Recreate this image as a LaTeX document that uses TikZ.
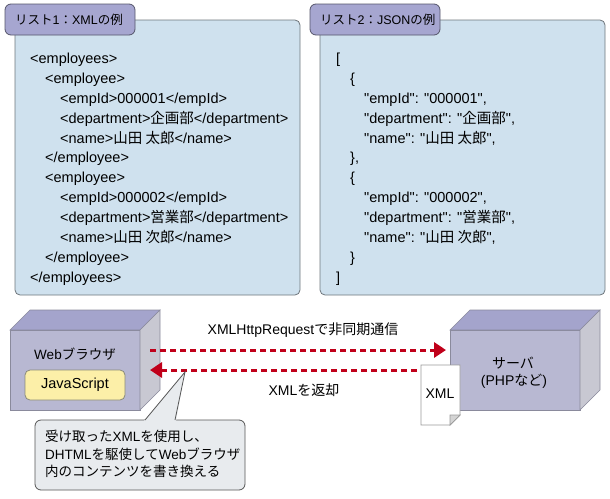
\documentclass[tikz,border=0pt]{standalone}
\usepackage{fontspec}
\setmainfont{Liberation Sans}[Ligatures=TeXOff]
\newfontfamily\jafont{Noto Sans CJK JP}
\newcommand\JA[1]{{\jafont #1}}
\usetikzlibrary{arrows.meta}
\definecolor{panelfill}{HTML}{CFE1EE}
\definecolor{panelline}{HTML}{6E767C}
\definecolor{tabfill}{HTML}{A6A6D0}
\definecolor{tabline}{HTML}{55556A}
\definecolor{frontfill}{HTML}{B8B8D2}
\definecolor{topfill}{HTML}{A4A4CC}
\definecolor{sidefill}{HTML}{C8C8D2}
\definecolor{boxline}{HTML}{8A8A9C}
\definecolor{jsfill}{HTML}{FCEFA8}
\definecolor{jsline}{HTML}{8A8A7A}
\definecolor{callfill}{HTML}{E8EBEE}
\definecolor{callline}{HTML}{555555}
\definecolor{arrowred}{HTML}{C0001A}
\definecolor{foldfill}{HTML}{D4D4D4}
\begin{document}
\begin{tikzpicture}[x=1pt,y=-1pt,
  code/.style={anchor=base west, inner sep=0pt, font=\fontsize{14.5}{17}\selectfont},
  panel/.style={draw=panelline, fill=panelfill, line width=0.8pt, rounded corners=5pt},
  tab/.style={draw=tabline, fill=tabfill, line width=0.8pt, rounded corners=6pt},
  tablabel/.style={anchor=base west, inner sep=0pt, font=\fontsize{12.5}{15}\selectfont},
  face/.style={draw=boxline, line width=0.6pt},
  lbl/.style={inner sep=0pt, font=\fontsize{14}{17}\selectfont},
  req/.style={draw=arrowred, line width=3pt, dash pattern=on 6pt off 4pt, -{Triangle[length=12pt,width=15pt]}},
  callout/.style={draw=callline, fill=callfill, line width=0.8pt}
]
\useasboundingbox (0,0) rectangle (610,498);

% ---------- panel 1 : XML ----------
\draw[panel] (15,20) rectangle (300,295);
\draw[tab] (5,4) rectangle (135,35);
\node[tablabel] (t1) at (15,24.5) {\JA{リスト}1\JA{：}XML\JA{の例}};
\node[code] (x1) at (30,63) {<employees>};
\node[code] (x2) at (45,83) {<employee>};
\node[code] (x3) at (60,103) {<empId>000001</empId>};
\node[code] (x4) at (60,123) {<department>\JA{企画部}</department>};
\node[code] (x5) at (60,143) {<name>\JA{山田 太郎}</name>};
\node[code] (x6) at (45,162.5) {</employee>};
\node[code] (x7) at (45,182.5) {<employee>};
\node[code] (x8) at (60,202.5) {<empId>000002</empId>};
\node[code] (x9) at (60,222.5) {<department>\JA{営業部}</department>};
\node[code] (x10) at (60,242.5) {<name>\JA{山田 次郎}</name>};
\node[code] (x11) at (45,262.5) {</employee>};
\node[code] (x12) at (30,282) {</employees>};

% ---------- panel 2 : JSON ----------
\draw[panel] (320,20) rectangle (605,295);
\draw[tab] (310,4) rectangle (440,35);
\node[tablabel] (t2) at (320,24.5) {\JA{リスト}2\JA{：}JSON\JA{の例}};
\node[code] (j1) at (336,63) {[};
\node[code] (j2) at (350,83) {\{};
\node[code] (j3) at (364,103) {"empId": "000001",};
\node[code] (j4) at (364,123) {"department": "\JA{企画部}",};
\node[code] (j5) at (364,143) {"name": "\JA{山田 太郎}",};
\node[code] (j6) at (350,162.5) {\},};
\node[code] (j7) at (350,182.5) {\{};
\node[code] (j8) at (364,202.5) {"empId": "000002",};
\node[code] (j9) at (364,222.5) {"department": "\JA{営業部}",};
\node[code] (j10) at (364,242.5) {"name": "\JA{山田 次郎}",};
\node[code] (j11) at (350,262.5) {\}};
\node[code] (j12) at (336,282) {]};

% ---------- browser box ----------
\draw[face, fill=frontfill] (10,330) rectangle (140,410);
\draw[face, fill=topfill] (10,330) -- (30,310) -- (160,310) -- (140,330) -- cycle;
\draw[face, fill=sidefill] (140,330) -- (160,310) -- (160,390) -- (140,410) -- cycle;
\node[lbl, font=\fontsize{13.5}{16}\selectfont] (web) at (75,354) {Web\JA{ブラウザ}};
\node[draw=jsline, fill=jsfill, line width=0.8pt, rounded corners=5pt,
      minimum width=100pt, minimum height=30pt, inner sep=0pt,
      font=\fontsize{14.5}{17}\selectfont] (js) at (75,385) {JavaScript};

% ---------- server box ----------
\draw[face, fill=frontfill] (450,330) rectangle (580,410);
\draw[face, fill=topfill] (450,330) -- (470,310) -- (600,310) -- (580,330) -- cycle;
\draw[face, fill=sidefill] (580,330) -- (600,310) -- (600,390) -- (580,410) -- cycle;
\node[lbl] (srv1) at (513,363) {\JA{サーバ}};
\node[lbl] (srv2) at (514,381) {(PHP\JA{など})};

% ---------- XML document ----------
\draw[draw=gray!80, fill=white, line width=0.7pt] (421,365) -- (460,365) -- (460,415) -- (450,425) -- (421,425) -- cycle;
\draw[draw=gray!80, fill=foldfill, line width=0.7pt] (460,415) -- (450,415) -- (450,425) -- cycle;
\node[lbl] (doc) at (440,394) {XML};

% ---------- arrows ----------
\coordinate (a1s) at (150,350);
\coordinate (a1e) at (446,350);
\coordinate (a2s) at (417,370);
\coordinate (a2e) at (150,370);
\draw[req] (a1s) -- (a1e);
\draw[req] (a2s) -- (a2e);
\node[lbl] (lab1) at (303,330) {XMLHttpRequest\JA{で非同期通信}};
\node[lbl] (lab2) at (304,390) {XML\JA{を返却}};

% ---------- callout ----------
\draw[callout, rounded corners=6pt] (35,420) rectangle (245,490);
\coordinate (tip) at (185,372);
\fill[callfill] (144,421) -- (tip) -- (176,421) -- cycle;
\draw[draw=callline, line width=0.8pt] (145,420) -- (tip) -- (175,420);
\node[anchor=north west, align=left, inner sep=0pt,
      font=\fontsize{13.5}{17.5}\selectfont] (note) at (45,430)
  {\JA{受け取った}XML\JA{を使用し、}\\DHTML\JA{を駆使して}Web\JA{ブラウザ}\\\JA{内のコンテンツを書き換える}};
\end{tikzpicture}
\end{document}
